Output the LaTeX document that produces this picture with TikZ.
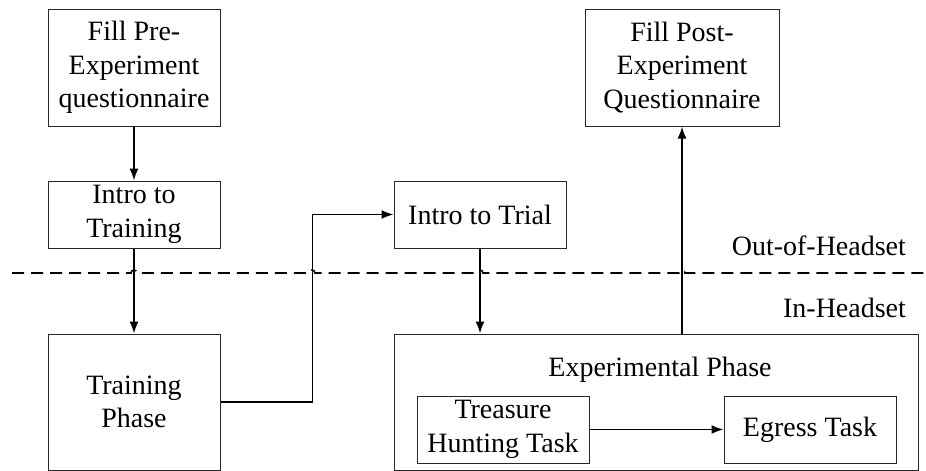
\documentclass[tikz,border=0pt]{standalone}
\usepackage{fontspec}
\setmainfont{Liberation Serif}
\usetikzlibrary{positioning}
\usetikzlibrary{arrows.meta}
\tikzset{
    x=0.5pt, y=-0.5pt, % one unit is one pixel of the layout
    every node/.style={
        font=\fontsize{14}{16.7}\selectfont
    },
    block/.style={ % Sets the properties for each box
        draw=black!85,
        line width=0.5pt,
        align=center,
        inner sep=0pt,
        minimum width=86pt,
        minimum height=33.5pt
    },
    flow/.style={ % Sets the properties for each transition
        draw,
        -{Latex[length=6pt,width=4.5pt]},
        line width=0.9pt
    },
    border/.style={
        draw,
        line width=0.8pt,
        dash pattern=on 6pt off 3.5pt
    }
}

\begin{document}
\begin{tikzpicture}
            \useasboundingbox (0,0) rectangle (926,471);

            \node[block, minimum height=58.5pt] (pre) at (134,67.5) {Fill Pre-\\Experiment\\questionnaire};
            \node[block] (introtrain) at (134,214.5) {Intro to\\Training};
            \node[block, minimum height=68pt] (trainphase) at (134,402) {Training\\Phase};
            \node[block] (introtrial) at (480,214.5) {Intro to Trial};
            \node[block, minimum width=97pt, minimum height=58.5pt] (post) at (682,67.5) {Fill Post-\\Experiment\\Questionnaire};

            \node[block, minimum width=262pt, minimum height=68pt] (exp) at (656,402) {};
            \node (explabel) at (660,370) {Experimental Phase};
            \node[block] (treasure) at (503,429.5) {Treasure\\Hunting Task};
            \node[block] (egress) at (810,429.5) {Egress Task};

            \node[anchor=east] (outlabel) at (913,246) {Out-of-Headset};
            \node[anchor=east] (inlabel) at (913,308) {In-Headset};

            % headset border with hops over the arrows
            \coordinate (bstart) at (12,273);
            \coordinate (bend) at (926,273);
            \draw[border] (bstart) -- (131,273) arc[start angle=180, end angle=0, radius=1.5pt]
                -- (309,273) arc[start angle=180, end angle=0, radius=1.5pt]
                -- (477,273) arc[start angle=180, end angle=0, radius=1.5pt]
                -- (679,273) arc[start angle=180, end angle=0, radius=1.5pt]
                -- (bend);

            \draw[flow] (pre) -- (introtrain);
            \draw[flow] (introtrain) -- (trainphase);
            \draw[flow] (trainphase.east) -- ++(92,0) |- (introtrial.west);
            \draw[flow] (introtrial) -- (introtrial |- exp.north);
            \draw[flow] (exp.north -| post) -- (post.south);
            \draw[flow] (treasure) -- (egress);
        \end{tikzpicture}
\end{document}
